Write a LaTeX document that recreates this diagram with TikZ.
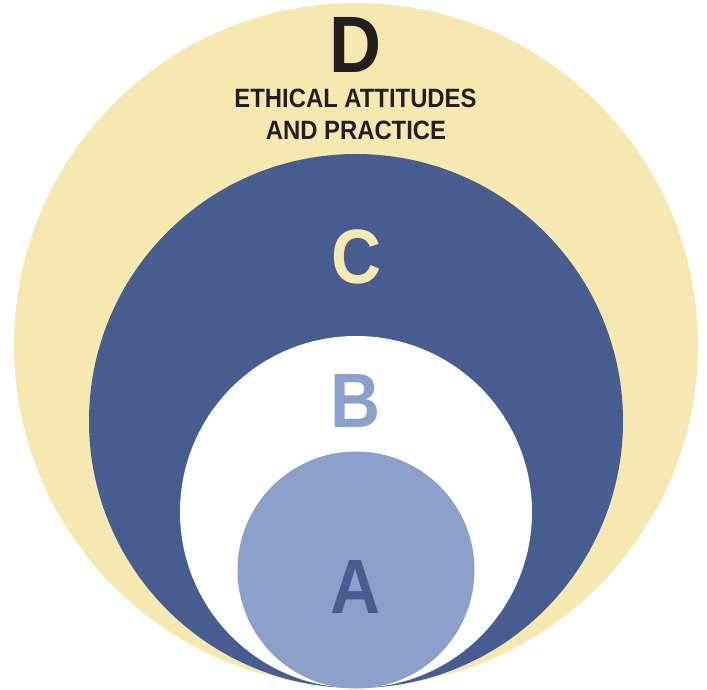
\documentclass[tikz,border=0pt]{standalone}
\usepackage{fontspec}
\newfontfamily\ringfont[FakeStretch=0.9]{Liberation Sans}
\usetikzlibrary{positioning}
\definecolor{cream}{HTML}{F5E8B1}
\definecolor{deepblue}{HTML}{475D8F}
\definecolor{paleblue}{HTML}{8CA0CC}
\definecolor{inkblack}{HTML}{231F20}

\begin{document}
\begin{tikzpicture}[
			x=1pt, y=-1pt,
			ring/.style={circle, inner sep=0pt, outer sep=0pt},
			bigletter/.style={inner sep=0pt, anchor=base, font=\ringfont\bfseries\fontsize{77}{77}\selectfont},
			caption/.style={inner sep=0pt, anchor=base, text=inkblack, font=\ringfont\bfseries\fontsize{26.5}{32}\selectfont}]
		\useasboundingbox (0,0) rectangle (707,689);
		% nested rings, all touching at the bottom
		\node (ringD) [ring, fill=cream,    minimum size=684pt] at (356,345) {};
		\node (ringC) [ring, fill=deepblue, minimum size=534pt] at (356,421) {};
		\node (ringB) [ring, fill=white,    minimum size=352pt] at (356,512) {};
		\node (ringA) [ring, fill=paleblue, minimum size=237pt] at (356,570) {};
		% letters
		\node (letD) [bigletter, text=inkblack, font=\ringfont\bfseries\fontsize{80}{80}\selectfont] at (355.5,72) {D};
		\node (ethA) [caption] at (355.5,107) {ETHICAL ATTITUDES};
		\node (ethB) [caption] at (356,139) {AND PRACTICE};
		\node (letC) [bigletter, text=cream]    at (356.5,283) {C};
		\node (letB) [bigletter, text=paleblue] at (356,427) {B};
		\node (letA) [bigletter, text=deepblue] at (356,613) {A};
	\end{tikzpicture}
\end{document}
